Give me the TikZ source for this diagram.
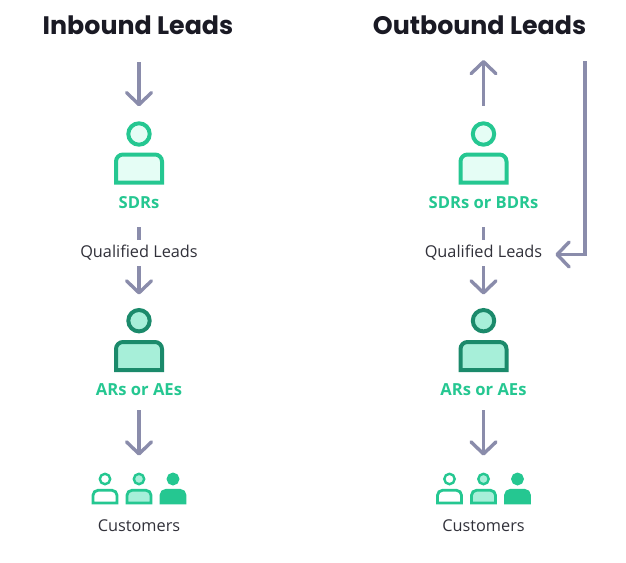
\documentclass[tikz,border=0pt]{standalone}
\usepackage{fontspec}
\setmainfont{Open Sans}
\newfontfamily\titlefont{Poppins}
\usetikzlibrary{arrows.meta}
\definecolor{RoleGreen}{HTML}{25C791}
\definecolor{DeepGreen}{HTML}{1B8A6B}
\definecolor{PaleGreen}{HTML}{E5FDF5}
\definecolor{MidGreen}{HTML}{A7EFD9}
\definecolor{FlowGrey}{HTML}{8A8CAB}
\definecolor{InkDark}{HTML}{1A1A24}
\tikzset{
  flow/.style={-{Straight Barb[length=12pt,width=25pt,line width=3.4pt,round]},draw=FlowGrey,line width=3.4pt},
  flowdash/.style={draw=FlowGrey,line width=3.4pt},
  headrole/.style={circle,draw=#1,line width=4pt,minimum size=21.4pt,inner sep=0pt},
  bodyrole/.style={draw=#1,line width=4pt,line join=miter},
  headcust/.style={circle,draw=RoleGreen,line width=2.4pt,minimum size=10.4pt,inner sep=0pt},
  bodycust/.style={draw=RoleGreen,line width=2.8pt},
  figtitle/.style={font=\titlefont\bfseries\fontsize{25.3}{28}\selectfont,text=InkDark,inner sep=0pt},
  rolelabel/.style={font=\bfseries\fontsize{16.6}{18}\selectfont,text=RoleGreen,inner sep=0pt,minimum height=16pt},
  figlabel/.style={font=\fontsize{16.3}{18}\selectfont,text=InkDark!90,inner sep=0pt,minimum height=20pt,minimum width=117pt}
}
\begin{document}
\begin{tikzpicture}[x=1pt,y=-1pt]
  \useasboundingbox[fill=white] (0,0) rectangle (626,562);
  \node[figtitle] (titlein) at (138,25) {Inbound Leads};
  \node[figtitle] (titleout) at (479.5,25) {Outbound Leads};
  \foreach \x/\n/\title in {139/l/SDRs,483.5/r/SDRs or BDRs}{
    % sales development person
    \begin{scope}[shift={(\x,154.5)}]
      \draw[bodyrole=RoleGreen,fill=PaleGreen] (-23,28) [rounded corners=7pt] -- (-23,0) -- (23,0) [sharp corners] -- (23,28) -- cycle;
    \end{scope}
    \node[headrole=RoleGreen,fill=PaleGreen] (head\n) at (\x,134) {};
    \node[rolelabel] (role\n) at (\x,202.2) {\title};
    \node[figlabel] (leads\n) at (\x,253) {Qualified Leads};
    % account person
    \begin{scope}[shift={(\x,342)}]
      \draw[bodyrole=DeepGreen,fill=MidGreen] (-23,28) [rounded corners=7pt] -- (-23,0) -- (23,0) [sharp corners] -- (23,28) -- cycle;
    \end{scope}
    \node[headrole=DeepGreen,fill=MidGreen] (acct\n) at (\x,320.7) {};
    \node[rolelabel] (acctrole\n) at (\x,389.6) {ARs or AEs};
    % customers
    \foreach \i/\dx/\tone in {1/-34/white,2/0/MidGreen,3/34/RoleGreen}{
      \begin{scope}[shift={(\x+\dx,490.3)}]
        \draw[bodycust,fill=\tone] (-12,12.7) [rounded corners=5pt] -- (-12,0) -- (12,0) [sharp corners] -- (12,12.7) -- cycle;
      \end{scope}
      \node[headcust,fill=\tone] (cust\n\i) at (\x+\dx,479) {};
    }
    \node[figlabel] (custlabel\n) at (\x,525.5) {Customers};
    % connectors
    \draw[flowdash,shorten <=16.8pt,shorten >=3pt] (role\n.south) -- (leads\n.north);
    \draw[flow,shorten <=3pt,shorten >=13.5pt] (leads\n.south) -- (acct\n.north);
    \draw[flow,shorten <=12.4pt,shorten >=17pt] (acctrole\n.south) -- (cust\n2.north);
  }
  \coordinate (startin) at (139,62);
  \coordinate (endout) at (483.5,60);
  \coordinate (startout) at (585,61);
  \coordinate (bendout) at (585,254.5);
  \draw[flow,shorten >=15pt] (startin) -- (headl.north);
  \draw[flow,shorten <=15.5pt] (headr.north) -- (endout);
  \draw[flow,shorten >=13pt,line join=miter] (startout) -- (bendout) -- (leadsr.east |- bendout);
\end{tikzpicture}
\end{document}
